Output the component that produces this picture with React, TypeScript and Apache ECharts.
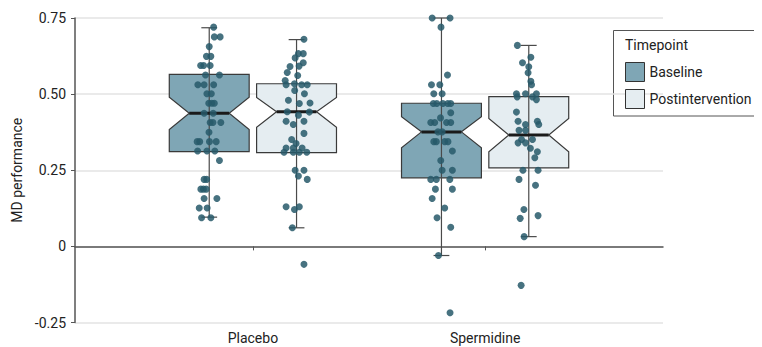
import React, { useEffect, useRef } from "react";
import * as echarts from "echarts";

const categories = ["Placebo", "Spermidine"];
const timepoints = ["Baseline", "Postintervention"];
const yTicks = [-0.25, 0, 0.25, 0.5, 0.75];

// [min whisker, Q1, median, Q3, max whisker]
const placeboBaselineBox = [0.096, 0.311, 0.437, 0.565, 0.718];
const placeboPostBox = [0.061, 0.308, 0.442, 0.534, 0.679];
const spermidineBaselineBox = [-0.03, 0.225, 0.376, 0.47, 0.75];
const spermidinePostBox = [0.032, 0.258, 0.366, 0.492, 0.66];

// [notch low, notch high]
const placeboBaselineNotch = [0.384, 0.49];
const placeboPostNotch = [0.391, 0.489];
const spermidineBaselineNotch = [0.324, 0.426];
const spermidinePostNotch = [0.311, 0.42];

// [horizontal jitter, MD performance]
const placeboBaselinePts = [
  [0.019, 0.72], [0.022, 0.688], [0.047, 0.688], [0, 0.656], [-0.012, 0.624], [0.007, 0.624],
  [-0.037, 0.594], [-0.024, 0.594], [0.004, 0.594], [-0.016, 0.563], [0.044, 0.563],
  [-0.049, 0.531], [-0.022, 0.531], [0.019, 0.531], [-0.01, 0.501], [0.009, 0.501],
  [-0.002, 0.47], [0.011, 0.47], [0.022, 0.47], [-0.022, 0.437], [0.017, 0.437],
  [0.004, 0.407], [0.016, 0.407], [0.05, 0.407], [-0.001, 0.375], [-0.052, 0.344],
  [-0.041, 0.344], [0.001, 0.344], [0.03, 0.344], [-0.05, 0.313], [-0.01, 0.313],
  [0.024, 0.313], [0.044, 0.282], [-0.022, 0.22], [-0.011, 0.22], [-0.036, 0.188],
  [-0.025, 0.188], [-0.013, 0.188], [-0.022, 0.157], [0.033, 0.157], [-0.043, 0.126],
  [-0.009, 0.126], [-0.033, 0.094], [0.007, 0.094],
];
const placeboPostPts = [
  [0.032, 0.68], [0.008, 0.633], [0.029, 0.633], [-0.006, 0.619], [0.029, 0.603], [0.011, 0.592],
  [-0.028, 0.591], [-0.04, 0.571], [0.005, 0.561], [-0.049, 0.545], [-0.045, 0.531],
  [-0.009, 0.534], [0.022, 0.531], [0.046, 0.531], [-0.008, 0.512], [0.034, 0.501],
  [-0.035, 0.48], [0.058, 0.471], [0.012, 0.469], [-0.04, 0.442], [0.008, 0.431],
  [0.055, 0.441], [-0.045, 0.411], [0.032, 0.411], [-0.014, 0.4], [0.032, 0.371],
  [-0.021, 0.351], [-0.002, 0.338], [-0.045, 0.323], [-0.014, 0.323], [0.024, 0.323],
  [-0.054, 0.309], [-0.014, 0.309], [0.012, 0.309], [0.044, 0.309], [-0.006, 0.25],
  [0.032, 0.25], [0.008, 0.231], [0.046, 0.22], [-0.045, 0.13], [0.012, 0.13],
  [-0.009, 0.121], [-0.018, 0.061], [0.032, -0.059],
];
const spermidineBaselinePts = [
  [-0.04, 0.75], [0.037, 0.75], [-0.002, 0.72], [0.026, 0.563], [-0.043, 0.531], [-0.007, 0.531],
  [-0.033, 0.501], [0.003, 0.501], [-0.035, 0.469], [-0.02, 0.469], [0.006, 0.469],
  [0.027, 0.469], [0.04, 0.469], [-0.004, 0.422], [0.04, 0.439], [-0.046, 0.407],
  [-0.029, 0.407], [0.022, 0.407], [0.04, 0.407], [-0.015, 0.376], [0.003, 0.376],
  [-0.033, 0.344], [-0.022, 0.344], [0.014, 0.344], [0.028, 0.344], [0.047, 0.313],
  [-0.003, 0.282], [0.003, 0.25], [0.047, 0.25], [-0.046, 0.22], [-0.022, 0.22],
  [0.036, 0.22], [-0.026, 0.188], [0.047, 0.188], [-0.04, 0.157], [0.014, 0.126],
  [-0.019, 0.094], [0.04, 0.063], [-0.013, -0.03], [0.037, -0.218],
];
const spermidinePostPts = [
  [-0.049, 0.66], [0.009, 0.621], [-0.027, 0.603], [0, 0.59], [-0.003, 0.57], [0.009, 0.542],
  [0.012, 0.531], [-0.053, 0.501], [-0.014, 0.501], [0.033, 0.501], [-0.05, 0.491],
  [0.016, 0.491], [0.033, 0.482], [-0.053, 0.441], [-0.046, 0.411], [0.037, 0.411],
  [-0.014, 0.4], [0.043, 0.4], [-0.042, 0.381], [-0.014, 0.381], [-0.046, 0.34],
  [-0.014, 0.34], [-0.031, 0.351], [0.016, 0.351], [0.007, 0.322], [0.037, 0.311],
  [0.026, 0.291], [-0.025, 0.25], [0.04, 0.25], [-0.042, 0.22], [0.029, 0.201],
  [-0.021, 0.121], [0.04, 0.101], [-0.037, 0.092], [-0.02, 0.032], [-0.033, -0.128],
];

const FONT = "Roboto";
const baselineColor = "#7fa6b5";
const postColor = "#e5edf1";
const pointColor = "#27596a";
const GROUP_OFFSET = 0.188;
const BOX_HALF = 0.172;
const CAP_HALF = 0.034;

export default function App() {
  const ref = useRef<HTMLDivElement>(null);

  useEffect(() => {
    if (!ref.current) return;
    const chart = echarts.init(ref.current, undefined, { renderer: "svg" });

    const boxData = (boxes: number[][], notches: number[][], sign: number) =>
      boxes.map((b, i) => [i + 1 + sign * GROUP_OFFSET, ...b, ...notches[i]]);

    const ptsData = (groups: number[][][], sign: number) =>
      groups.flatMap((pts, i) =>
        pts.map((p) => [i + 1 + sign * GROUP_OFFSET + p[0], p[1]])
      );

    const renderBox = (params: any, api: any) => {
      const xc = api.value(0);
      const mn = api.value(1);
      const q1 = api.value(2);
      const med = api.value(3);
      const q3 = api.value(4);
      const mx = api.value(5);
      const nLo = api.value(6);
      const nHi = api.value(7);
      const xl = xc - BOX_HALF;
      const xr = xc + BOX_HALF;
      const inset = BOX_HALF / 2;
      const pts = [
        [xl, q3], [xr, q3], [xr, nHi], [xr - inset, med], [xr, nLo], [xr, q1],
        [xl, q1], [xl, nLo], [xl + inset, med], [xl, nHi],
      ].map((p) => api.coord(p));
      const c = (x: number, y: number) => api.coord([x, y]);
      const wTop = c(xc, mx);
      const wBot = c(xc, mn);
      const medL = c(xl + inset, med);
      const medR = c(xr - inset, med);
      const capTL = c(xc - CAP_HALF, mx);
      const capTR = c(xc + CAP_HALF, mx);
      const capBL = c(xc - CAP_HALF, mn);
      const capBR = c(xc + CAP_HALF, mn);
      const lineStyle = { stroke: "#4a4a4a", lineWidth: 1.2 };
      return {
        type: "group",
        children: [
          {
            type: "polygon",
            shape: { points: pts },
            style: { fill: api.visual("color"), stroke: "#3a3a3a", lineWidth: 1.2 },
          },
          { type: "line", shape: { x1: wTop[0], y1: wTop[1], x2: wBot[0], y2: wBot[1] }, style: lineStyle },
          { type: "line", shape: { x1: capTL[0], y1: capTL[1], x2: capTR[0], y2: capTR[1] }, style: lineStyle },
          { type: "line", shape: { x1: capBL[0], y1: capBL[1], x2: capBR[0], y2: capBR[1] }, style: lineStyle },
          {
            type: "line",
            shape: { x1: medL[0], y1: medL[1], x2: medR[0], y2: medR[1] },
            style: { stroke: "#1a1a1a", lineWidth: 3 },
          },
        ],
      };
    };

    chart.setOption({
      animation: false,
      textStyle: { fontFamily: FONT },
      grid: { left: 75, right: 99, top: 18, bottom: 24.5 },
      xAxis: {
        type: "value",
        min: 0.234,
        max: 2.766,
        splitLine: { show: false },
        axisLine: { show: true, lineStyle: { color: "#555", width: 1.5 } },
        axisTick: { show: true, customValues: [1, 2], length: 4, lineStyle: { color: "#555" } },
        axisLabel: {
          customValues: [1, 2],
          formatter: (v: number) => categories[Math.round(v) - 1] ?? "",
          color: "#222",
          fontSize: 14,
          fontFamily: FONT,
          margin: 8,
        },
      },
      yAxis: {
        type: "value",
        min: -0.25,
        max: 0.75,
        interval: 0.25,
        name: "MD performance",
        nameLocation: "middle",
        nameGap: 49,
        nameTextStyle: { color: "#222", fontSize: 14, fontFamily: FONT },
        axisLine: { show: true, lineStyle: { color: "#555", width: 1.5 } },
        axisTick: { show: true, length: 4, lineStyle: { color: "#555" } },
        axisLabel: {
          formatter: (v: number) => (Math.abs(v) < 1e-9 ? "0" : v.toFixed(2)),
          color: "#222",
          fontSize: 14,
          fontFamily: FONT,
          margin: 9,
        },
        splitLine: { show: true, lineStyle: { color: "#e3e3e3", width: 1.5 } },
      },
      legend: {
        data: timepoints,
        orient: "vertical",
        left: 625,
        top: 62,
        padding: 0,
        itemWidth: 19,
        itemHeight: 19,
        itemGap: 7,
        icon: "rect",
        itemStyle: { borderColor: "#333", borderWidth: 1 },
        textStyle: {
          color: "#222",
          fontSize: 14,
          fontFamily: FONT,
          width: 130,
          overflow: "none",
        },
        selectedMode: false,
      },
      graphic: [
        {
          type: "rect",
          shape: { x: 613.5, y: 30.5, width: 147.5, height: 85.5 },
          style: { fill: "none", stroke: "#555", lineWidth: 1 },
          silent: true,
        },
        {
          type: "text",
          x: 625,
          y: 38,
          style: { text: "Timepoint", fill: "#222", fontSize: 14, fontFamily: FONT },
          silent: true,
        },
      ],
      series: [
        {
          name: timepoints[0],
          type: "custom",
          renderItem: renderBox,
          itemStyle: { color: baselineColor },
          encode: { x: 0, y: [1, 2, 3, 4, 5] },
          data: boxData(
            [placeboBaselineBox, spermidineBaselineBox],
            [placeboBaselineNotch, spermidineBaselineNotch],
            -1
          ),
          z: 2,
        },
        {
          name: timepoints[1],
          type: "custom",
          renderItem: renderBox,
          itemStyle: { color: postColor },
          encode: { x: 0, y: [1, 2, 3, 4, 5] },
          data: boxData(
            [placeboPostBox, spermidinePostBox],
            [placeboPostNotch, spermidinePostNotch],
            1
          ),
          z: 2,
        },
        {
          name: "Baseline points",
          type: "scatter",
          symbolSize: 7,
          itemStyle: { color: pointColor, opacity: 0.85 },
          data: ptsData([placeboBaselinePts, spermidineBaselinePts], -1),
          z: 5,
        },
        {
          name: "Postintervention points",
          type: "scatter",
          symbolSize: 7,
          itemStyle: { color: pointColor, opacity: 0.85 },
          data: ptsData([placeboPostPts, spermidinePostPts], 1),
          z: 5,
        },
      ],
    });

    return () => chart.dispose();
  }, []);

  return <div ref={ref} style={{ width: 762, height: 347, marginLeft: -8, marginTop: -8 }} />;
}
